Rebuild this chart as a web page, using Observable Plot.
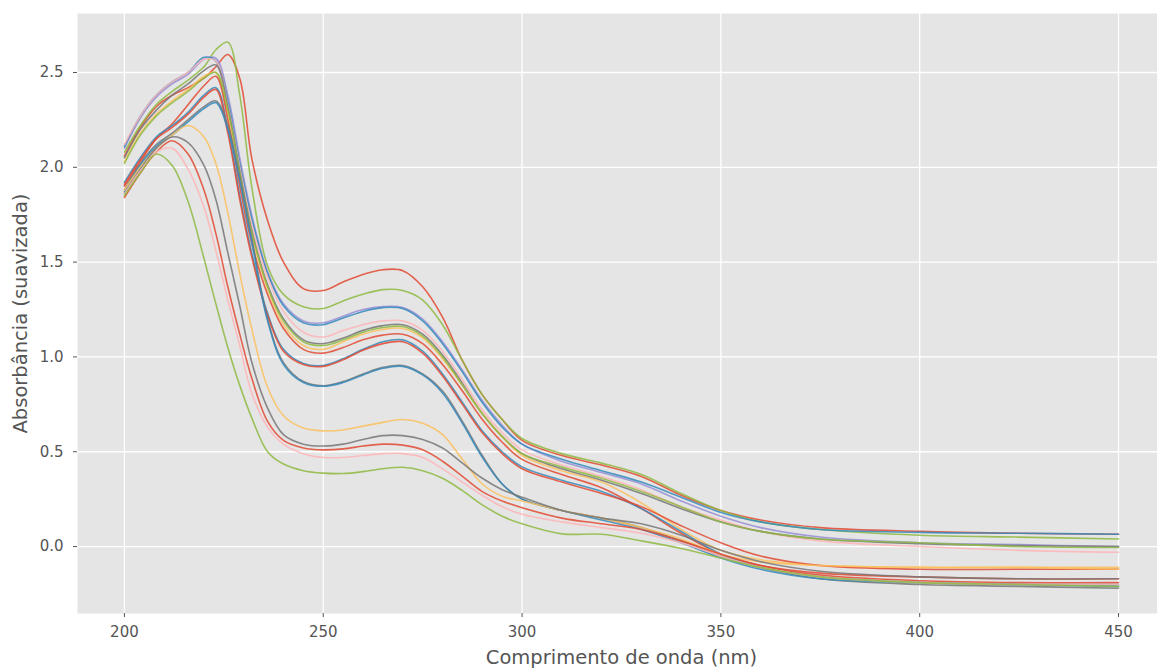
<!DOCTYPE html>
<html>
<head>
<meta charset="utf-8">
<script src="https://cdn.jsdelivr.net/npm/d3@7"></script>
<script src="https://cdn.jsdelivr.net/npm/@observablehq/plot@0.6"></script>
<style>
  html, body { margin: 0; padding: 0; background: white; }
</style>
</head>
<body>
<div id="chart"></div>
<script>
const wavelengths = [200,204,208,212,216,220,223,226,229,232,236,240,245,250,255,260,265,270,275,280,285,290,295,300,310,320,330,340,350,360,375,400,425,450];

const xTicks = [200,250,300,350,400,450];
const yTicks = [0,0.5,1,1.5,2,2.5];

const specA  = [2.06,2.21,2.32,2.38,2.42,2.47,2.53,2.595,2.47,2.05,1.72,1.50,1.36,1.35,1.395,1.435,1.46,1.455,1.37,1.21,0.98,0.80,0.67,0.56,0.48,0.43,0.37,0.27,0.19,0.14,0.10,0.08,0.07,0.065];
const specB  = [2.08,2.22,2.33,2.40,2.46,2.53,2.62,2.66,2.38,1.90,1.48,1.33,1.265,1.255,1.295,1.33,1.355,1.35,1.30,1.17,0.98,0.80,0.67,0.57,0.49,0.44,0.38,0.28,0.19,0.13,0.09,0.06,0.05,0.04];
const specC  = [2.10,2.26,2.37,2.44,2.49,2.57,2.575,2.38,2.05,1.75,1.45,1.28,1.19,1.18,1.215,1.25,1.265,1.26,1.20,1.08,0.93,0.77,0.64,0.54,0.45,0.39,0.33,0.24,0.16,0.10,0.05,0.02,0.01,0.0];
const specC2 = [2.11,2.27,2.38,2.45,2.50,2.58,2.56,2.35,2.02,1.73,1.44,1.27,1.18,1.17,1.205,1.24,1.26,1.255,1.19,1.07,0.92,0.76,0.63,0.54,0.46,0.40,0.34,0.26,0.18,0.13,0.09,0.075,0.07,0.065];
const specD1 = [2.12,2.27,2.38,2.45,2.50,2.57,2.56,2.33,2.00,1.70,1.42,1.24,1.13,1.105,1.14,1.17,1.19,1.19,1.14,1.03,0.88,0.72,0.60,0.51,0.43,0.37,0.30,0.21,0.14,0.08,0.03,0.0,-0.02,-0.03];
const specD2 = [2.05,2.20,2.30,2.38,2.44,2.51,2.54,2.32,1.98,1.67,1.38,1.20,1.09,1.07,1.10,1.14,1.165,1.17,1.12,1.01,0.86,0.70,0.58,0.49,0.41,0.35,0.28,0.20,0.13,0.08,0.04,0.015,0.005,0.0];
const specD3 = [2.03,2.18,2.28,2.35,2.41,2.48,2.50,2.28,1.95,1.64,1.36,1.17,1.06,1.04,1.08,1.12,1.145,1.15,1.10,0.99,0.85,0.70,0.58,0.48,0.40,0.34,0.23,0.09,-0.02,-0.07,-0.10,-0.11,-0.11,-0.11];
const specD4 = [1.90,2.03,2.15,2.23,2.33,2.43,2.48,2.25,1.90,1.60,1.33,1.15,1.04,1.02,1.05,1.09,1.115,1.12,1.07,0.96,0.82,0.67,0.55,0.46,0.38,0.31,0.20,0.07,-0.04,-0.10,-0.14,-0.16,-0.17,-0.17];
const specD5 = [2.02,2.17,2.27,2.34,2.40,2.47,2.50,2.30,1.97,1.66,1.37,1.19,1.08,1.06,1.09,1.13,1.155,1.16,1.11,1.00,0.85,0.70,0.58,0.49,0.42,0.36,0.29,0.21,0.13,0.08,0.04,0.02,0.0,-0.005];
const specE  = [1.92,2.05,2.16,2.22,2.29,2.38,2.42,2.20,1.85,1.55,1.23,1.04,0.965,0.955,0.99,1.04,1.08,1.09,1.03,0.91,0.76,0.61,0.50,0.42,0.35,0.29,0.20,0.08,-0.04,-0.11,-0.16,-0.19,-0.20,-0.20];
const specE2 = [1.91,2.04,2.15,2.21,2.28,2.37,2.41,2.18,1.83,1.53,1.22,1.03,0.96,0.95,0.985,1.035,1.07,1.08,1.02,0.90,0.75,0.60,0.49,0.41,0.34,0.28,0.21,0.11,0.02,-0.05,-0.10,-0.12,-0.12,-0.12];
const specF  = [1.88,2.02,2.12,2.18,2.25,2.32,2.35,2.22,1.95,1.63,1.20,0.97,0.87,0.848,0.87,0.91,0.945,0.955,0.91,0.82,0.66,0.48,0.33,0.25,0.19,0.15,0.10,0.03,-0.05,-0.11,-0.17,-0.20,-0.21,-0.22];
const specF2 = [1.87,2.01,2.11,2.17,2.24,2.31,2.34,2.20,1.93,1.61,1.19,0.96,0.865,0.845,0.865,0.905,0.94,0.95,0.905,0.81,0.65,0.47,0.33,0.25,0.19,0.14,0.09,0.02,-0.06,-0.12,-0.17,-0.19,-0.20,-0.21];
const specG  = [1.88,2.00,2.10,2.17,2.22,2.16,2.02,1.76,1.44,1.15,0.84,0.69,0.625,0.61,0.615,0.635,0.655,0.67,0.65,0.59,0.46,0.33,0.265,0.24,0.19,0.15,0.10,0.04,-0.04,-0.08,-0.10,-0.11,-0.11,-0.12];
const specH  = [1.86,1.99,2.10,2.16,2.13,2.01,1.83,1.55,1.27,0.975,0.73,0.59,0.54,0.53,0.54,0.565,0.585,0.585,0.565,0.52,0.44,0.36,0.30,0.26,0.19,0.15,0.12,0.06,-0.02,-0.08,-0.13,-0.16,-0.17,-0.17];
const specI  = [1.84,1.97,2.08,2.14,2.07,1.88,1.65,1.37,1.12,0.89,0.66,0.56,0.52,0.51,0.515,0.53,0.54,0.535,0.51,0.45,0.37,0.29,0.24,0.205,0.15,0.12,0.09,0.03,-0.04,-0.10,-0.15,-0.18,-0.19,-0.19];
const specJ  = [1.86,1.98,2.08,2.10,1.99,1.79,1.56,1.30,1.06,0.81,0.63,0.54,0.49,0.47,0.47,0.48,0.49,0.49,0.47,0.41,0.34,0.27,0.21,0.17,0.13,0.10,0.07,0.02,-0.05,-0.11,-0.16,-0.19,-0.20,-0.20];
const specK  = [1.85,1.97,2.07,2.01,1.82,1.52,1.28,1.05,0.85,0.68,0.50,0.435,0.40,0.387,0.385,0.395,0.41,0.418,0.40,0.36,0.295,0.22,0.16,0.12,0.067,0.065,0.03,-0.01,-0.06,-0.11,-0.16,-0.19,-0.20,-0.21];

const seriesNames  = ["A","B","C","C2","D1","D2","D3","D4","D5","E","E2","F","F2","G","H","I","J","K"];
const seriesValues = [specA,specB,specC,specC2,specD1,specD2,specD3,specD4,specD5,specE,specE2,specF,specF2,specG,specH,specI,specJ,specK];
const seriesColors = ["#E24A33","#8EBA42","#988ED5","#348ABD","#FFB5B8","#777777","#FBC15E","#E24A33","#8EBA42","#348ABD","#E24A33","#777777","#348ABD","#FBC15E","#777777","#E24A33","#FFB5B8","#8EBA42"];

const xLabel = "Comprimento de onda (nm)";
const yLabel = "Absorbância (suavizada)";

const lineMarks = seriesNames.map((name, k) => {
  const rows = wavelengths.map((w, i) => ({w, a: seriesValues[k][i], s: name}));
  return Plot.line(rows, {x: "w", y: "a", stroke: seriesColors[k], strokeWidth: 1.6, strokeOpacity: 0.85, curve: "catmull-rom"});
});

const chart = Plot.plot({
  width: 1157,
  height: 669,
  marginLeft: 77,
  marginRight: 0,
  marginTop: 13,
  marginBottom: 56,
  style: {fontFamily: "'DejaVu Sans', sans-serif", fontSize: "15px", background: "white", color: "#555"},
  x: {domain: [188.2, 459.8]},
  y: {domain: [-0.353, 2.811]},
  marks: [
    Plot.frame({fill: "#E5E5E5", stroke: "none"}),
    Plot.gridX(xTicks, {stroke: "white", strokeOpacity: 1, strokeWidth: 1.3}),
    Plot.gridY(yTicks, {stroke: "white", strokeOpacity: 1, strokeWidth: 1.3}),
    ...lineMarks,
    Plot.axisX(xTicks, {tickSize: 4, tickPadding: 9, label: null, stroke: "#555", fill: "#555", fontSize: 15}),
    Plot.axisY(yTicks, {tickSize: 4, tickPadding: 10, label: null, stroke: "#555", fill: "#555", fontSize: 15, tickFormat: d3.format(".1f")}),
    Plot.text([xLabel], {frameAnchor: "bottom", dy: 44, dx: 4, fontSize: 19.5, fill: "#555", textAnchor: "middle", lineAnchor: "middle"}),
    Plot.text([yLabel], {frameAnchor: "left", dx: -57, rotate: -90, fontSize: 19.5, fill: "#555", textAnchor: "middle", lineAnchor: "middle"})
  ]
});

document.getElementById("chart").appendChild(chart);
</script>
</body>
</html>
